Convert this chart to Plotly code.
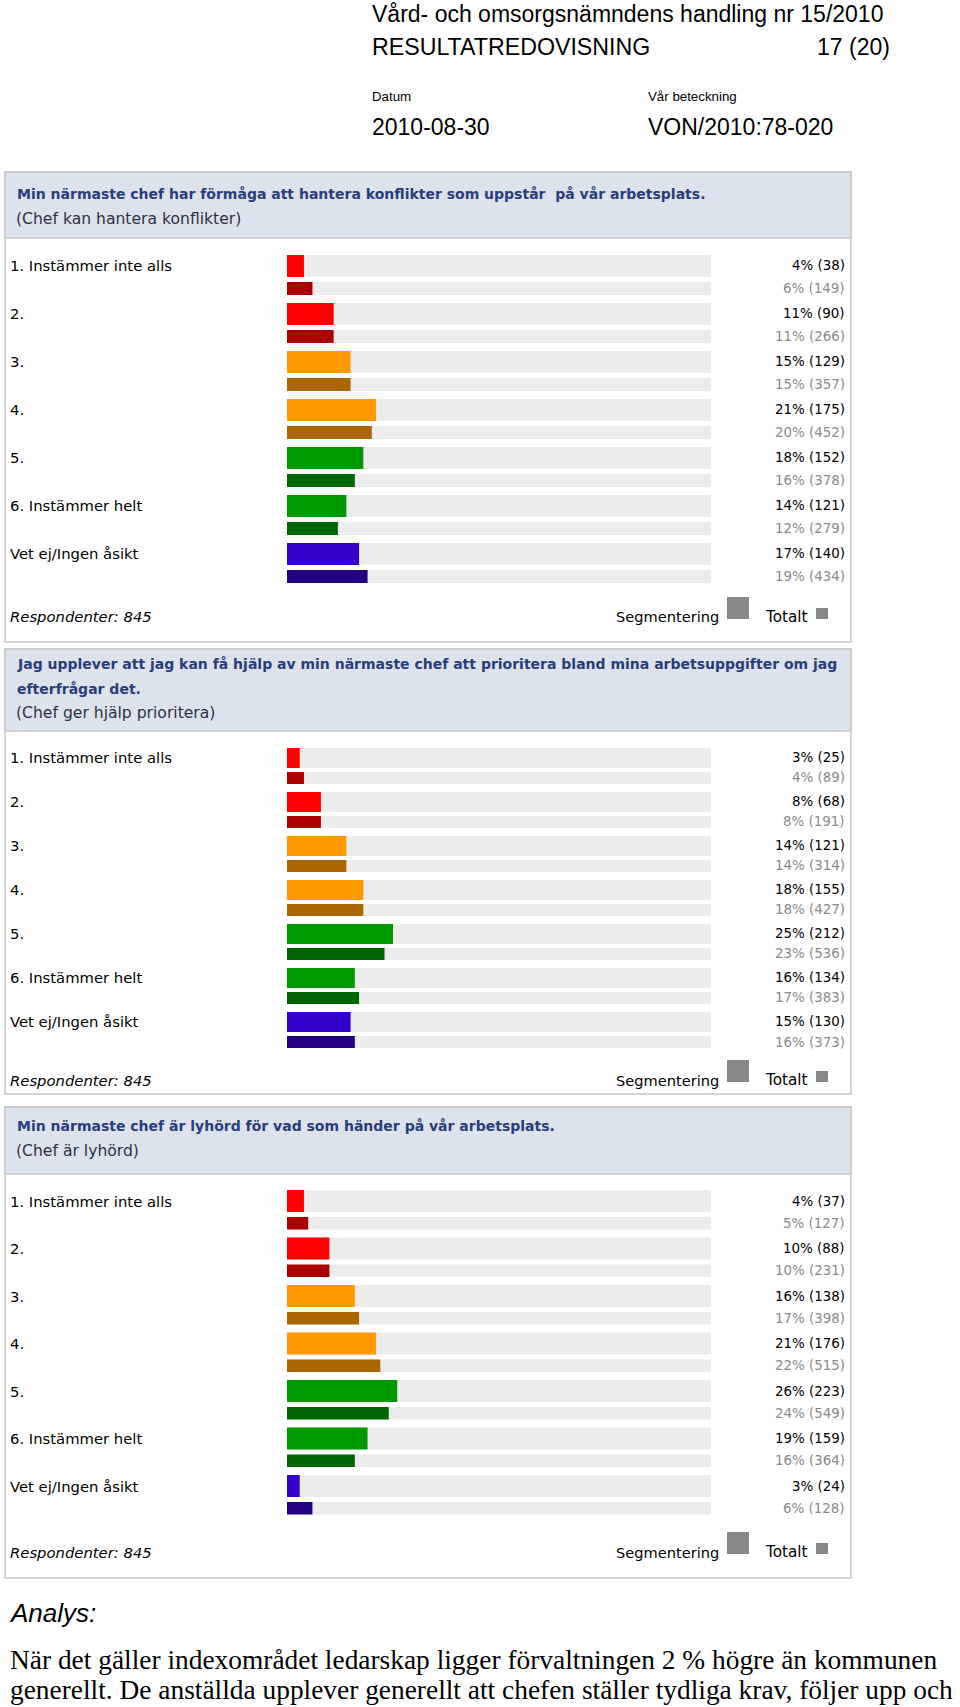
import plotly.graph_objects as go

W, H = 960, 1707

# ---- data ----
categories = ["1. Instämmer inte alls", "2.", "3.", "4.", "5.",
              "6. Instämmer helt", "Vet ej/Ingen åsikt"]

seg_colors = ["#ff0000", "#ff0000", "#ff9900", "#ff9900", "#009900", "#009900", "#3300cc"]
tot_colors = ["#aa0000", "#aa0000", "#aa6600", "#aa6600", "#006600", "#006600", "#220080"]

q1_title = ["Min närmaste chef har förmåga att hantera konflikter som uppstår  på vår arbetsplats."]
q1_short = "(Chef kan hantera konflikter)"
q1_seg_pct = [4, 11, 15, 21, 18, 14, 17]
q1_seg_n = [38, 90, 129, 175, 152, 121, 140]
q1_tot_pct = [6, 11, 15, 20, 16, 12, 19]
q1_tot_n = [149, 266, 357, 452, 378, 279, 434]

q2_title = ["Jag upplever att jag kan få hjälp av min närmaste chef att prioritera bland mina arbetsuppgifter om jag",
            "efterfrågar det."]
q2_short = "(Chef ger hjälp prioritera)"
q2_seg_pct = [3, 8, 14, 18, 25, 16, 15]
q2_seg_n = [25, 68, 121, 155, 212, 134, 130]
q2_tot_pct = [4, 8, 14, 18, 23, 17, 16]
q2_tot_n = [89, 191, 314, 427, 536, 383, 373]

q3_title = ["Min närmaste chef är lyhörd för vad som händer på vår arbetsplats."]
q3_short = "(Chef är lyhörd)"
q3_seg_pct = [4, 10, 16, 21, 26, 19, 3]
q3_seg_n = [37, 88, 138, 176, 223, 159, 24]
q3_tot_pct = [5, 10, 17, 22, 24, 16, 6]
q3_tot_n = [127, 231, 398, 515, 549, 364, 128]

respondents = [845, 845, 845]

analysis_lines = [
    "När det gäller indexområdet ledarskap ligger förvaltningen 2 % högre än kommunen",
    "generellt. De anställda upplever generellt att chefen ställer tydliga krav, följer upp och",
]

# ---- page geometry (pixels) ----
panels = [
    dict(title=q1_title, short=q1_short, seg=q1_seg_pct, seg_n=q1_seg_n, tot=q1_tot_pct, tot_n=q1_tot_n,
         box=(172, 642), band=238, q_y=[194], short_y=219, first=255, pitch=48, ph=22, gap=5, sh=13,
         foot=617),
    dict(title=q2_title, short=q2_short, seg=q2_seg_pct, seg_n=q2_seg_n, tot=q2_tot_pct, tot_n=q2_tot_n,
         box=(649, 1094), band=731, q_y=[664, 689], short_y=713, first=748, pitch=44, ph=20, gap=4, sh=12,
         foot=1080),
    dict(title=q3_title, short=q3_short, seg=q3_seg_pct, seg_n=q3_seg_n, tot=q3_tot_pct, tot_n=q3_tot_n,
         box=(1107, 1578), band=1174, q_y=[1126], short_y=1151, first=1190, pitch=47.5, ph=22, gap=5, sh=12.5,
         foot=1552),
]

BOX_L, BOX_R = 5, 851
BAR_L, BAR_R = 287, 711
VAL_X = 847
PF = "DejaVu Sans"
HF = "Liberation Sans"


def px(x):
    return x / W


def py(y):
    return 1 - y / H


fig = go.Figure()
shapes = []
annotations = []
layout_axes = {}

for k, p in enumerate(panels, start=1):
    xa = "x" if k == 1 else f"x{k}"
    ya = "y" if k == 1 else f"y{k}"
    n = len(categories)
    rows = list(range(n))
    pad = 4
    top = p["first"] - pad
    bottom = top + n * p["pitch"]
    off1 = pad / p["pitch"] - 0.5
    off2 = (pad + p["ph"] + p["gap"]) / p["pitch"] - 0.5
    w1 = p["ph"] / p["pitch"]
    w2 = p["sh"] / p["pitch"]

    common = dict(orientation="h", xaxis=xa, yaxis=ya, hoverinfo="skip", showlegend=False)
    # grey tracks, then segment / total bars
    fig.add_trace(go.Bar(x=[100] * n, y=rows, width=w1, offset=off1,
                         marker=dict(color="#ececec", line=dict(width=0)), **common))
    fig.add_trace(go.Bar(x=[100] * n, y=rows, width=w2, offset=off2,
                         marker=dict(color="#ececec", line=dict(width=0)), **common))
    fig.add_trace(go.Bar(x=p["seg"], y=rows, width=w1, offset=off1,
                         marker=dict(color=seg_colors, line=dict(width=0)), **common))
    fig.add_trace(go.Bar(x=p["tot"], y=rows, width=w2, offset=off2,
                         marker=dict(color=tot_colors, line=dict(width=0)), **common))

    layout_axes["xaxis" if k == 1 else f"xaxis{k}"] = dict(
        domain=[px(BAR_L), px(BAR_R)], range=[0, 100], visible=False, fixedrange=True,
        anchor=ya)
    layout_axes["yaxis" if k == 1 else f"yaxis{k}"] = dict(
        domain=[py(bottom), py(top)], range=[n - 0.5, -0.5], visible=False, fixedrange=True,
        anchor=xa)

    # box and header band
    b0, b1 = p["box"]
    shapes.append(dict(type="rect", xref="paper", yref="paper", layer="below",
                       x0=px(BOX_L), x1=px(BOX_R), y0=py(b1), y1=py(b0),
                       fillcolor="white", line=dict(color="#c6c6c6", width=1.5)))
    shapes.append(dict(type="rect", xref="paper", yref="paper", layer="below",
                       x0=px(BOX_L), x1=px(BOX_R), y0=py(p["band"]), y1=py(b0),
                       fillcolor="#dde3ed", line=dict(color="#c6c6c6", width=1.5)))

    for line, yy in zip(p["title"], p["q_y"]):
        annotations.append(dict(text=f"<b>{line}</b>", xref="paper", yref="paper",
                                x=px(15), y=py(yy), xanchor="left", yanchor="middle",
                                showarrow=False, font=dict(family=PF, size=14, color="#283d7c")))
    annotations.append(dict(text=p["short"], xref="paper", yref="paper",
                            x=px(14), y=py(p["short_y"]), xanchor="left", yanchor="middle",
                            showarrow=False, font=dict(family=PF, size=15.6, color="#2c3242")))

    for i, cat in enumerate(categories):
        y1 = i - 0.5 + (pad + p["ph"] / 2) / p["pitch"]
        y2 = i - 0.5 + (pad + p["ph"] + p["gap"] + p["sh"] / 2) / p["pitch"]
        annotations.append(dict(text=cat, xref="paper", yref=ya, x=px(8), y=y1,
                                xanchor="left", yanchor="middle", showarrow=False,
                                font=dict(family=PF, size=14.8, color="#000000")))
        annotations.append(dict(text=f"{p['seg'][i]}% ({p['seg_n'][i]})", xref="paper", yref=ya,
                                x=px(VAL_X), y=y1, xanchor="right", yanchor="middle", showarrow=False,
                                font=dict(family=PF, size=13.4, color="#000000")))
        annotations.append(dict(text=f"{p['tot'][i]}% ({p['tot_n'][i]})", xref="paper", yref=ya,
                                x=px(VAL_X), y=y2, xanchor="right", yanchor="middle", showarrow=False,
                                font=dict(family=PF, size=13.4, color="#8a8a8a")))

    # footer
    f = p["foot"]
    annotations.append(dict(text=f"<i>Respondenter: {respondents[k - 1]}</i>", xref="paper", yref="paper",
                            x=px(8), y=py(f), xanchor="left", yanchor="middle", showarrow=False,
                            font=dict(family=PF, size=14.8, color="#000000")))
    annotations.append(dict(text="Segmentering", xref="paper", yref="paper",
                            x=px(721), y=py(f), xanchor="right", yanchor="middle", showarrow=False,
                            font=dict(family=PF, size=14.6, color="#000000")))
    annotations.append(dict(text="Totalt", xref="paper", yref="paper",
                            x=px(809), y=py(f), xanchor="right", yanchor="middle", showarrow=False,
                            font=dict(family=PF, size=15.2, color="#000000")))
    shapes.append(dict(type="rect", xref="paper", yref="paper", x0=px(727), x1=px(749),
                       y0=py(f + 2), y1=py(f - 20), fillcolor="#888888", line=dict(width=0)))
    shapes.append(dict(type="rect", xref="paper", yref="paper", x0=px(816), x1=px(828),
                       y0=py(f + 2), y1=py(f - 9), fillcolor="#888888", line=dict(width=0)))

# page header
head = [
    ("Vård- och omsorgsnämndens handling nr 15/2010", 370, 14, 23, "left"),
    ("RESULTATREDOVISNING", 370, 47, 23.2, "left"),
    ("17 (20)", 892, 47, 23, "right"),
    ("Datum", 370, 96, 13.3, "left"),
    ("Vår beteckning", 646, 96, 13.3, "left"),
    ("2010-08-30", 370, 127, 23, "left"),
    ("VON/2010:78-020", 646, 127, 23, "left"),
]
for text, x, y, size, anchor in head:
    annotations.append(dict(text=text, xref="paper", yref="paper", x=px(x), y=py(y),
                            xanchor=anchor, yanchor="middle", showarrow=False,
                            font=dict(family=HF, size=size, color="#000000")))

annotations.append(dict(text="<i>Analys:</i>", xref="paper", yref="paper", x=px(7), y=py(1613),
                        xanchor="left", yanchor="middle", showarrow=False,
                        font=dict(family=HF, size=26, color="#000000")))
for line, y in zip(analysis_lines, [1660, 1690]):
    annotations.append(dict(text=line, xref="paper", yref="paper", x=px(8), y=py(y),
                            xanchor="left", yanchor="middle", showarrow=False,
                            font=dict(family="Liberation Serif", size=27.4, color="#000000")))

fig.update_layout(
    width=W, height=H,
    margin=dict(l=0, r=0, t=0, b=0),
    paper_bgcolor="white",
    plot_bgcolor="rgba(0,0,0,0)",
    barmode="overlay",
    showlegend=False,
    shapes=shapes,
    annotations=annotations,
    **layout_axes,
)

fig.write_html("out.html", config={"displayModeBar": False},
               post_script="document.body.style.margin='0';")
